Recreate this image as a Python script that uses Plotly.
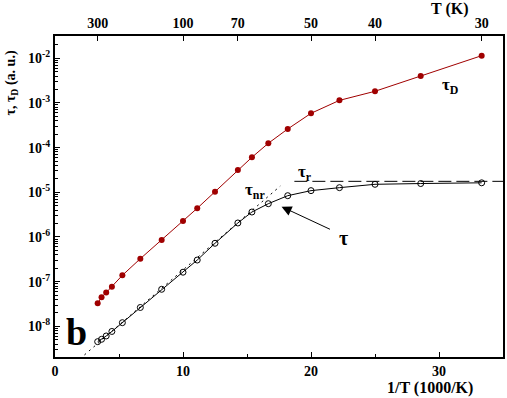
import plotly.graph_objects as go

# Temperatures (K) of the measurements; x = 1000/T
temps = [300, 275, 250, 225, 190, 150, 120, 100, 90, 80, 70, 65, 60, 55, 50, 45, 40, 35, 30]
inv_t = [1000.0 / t for t in temps]

# tau_D (red, filled)
tau_d = [3.3e-8, 4.5e-8, 5.7e-8, 7.7e-8, 1.39e-7, 3.27e-7, 8.6e-7, 2.28e-6, 4.39e-6,
         1.03e-5, 3.15e-5, 6.07e-5, 1.25e-4, 2.61e-4, 5.85e-4, 1.14e-3, 1.82e-3, 4.0e-3, 1.14e-2]

# tau (black, open)
tau = [4.55e-9, 5.14e-9, 6.1e-9, 7.7e-9, 1.21e-8, 2.65e-8, 6.76e-8, 1.63e-7, 3.05e-7,
       7.23e-7, 2.06e-6, 3.62e-6, 5.56e-6, 8.4e-6, 1.09e-5, 1.27e-5, 1.51e-5, 1.57e-5, 1.63e-5]

# asymptotes
tau_r_x = [18.7, 35.0]
tau_r_y = [1.76e-5, 1.76e-5]
tau_nr_x = [2.3, 17.6]
tau_nr_y = [2.3e-9, 1.38e-5]

# top axis ticks (T in K)
top_T = [300, 100, 70, 50, 40, 30]
top_pos = [1000.0 / t for t in top_T]
top_text = [str(t) for t in top_T]

y_vals = [1e-8, 1e-7, 1e-6, 1e-5, 1e-4, 1e-3, 1e-2]
y_text = ["10<sup>-%d</sup>" % k for k in range(8, 1, -1)]
y_minor = [m * 10.0 ** e for e in range(-9, -1) for m in range(2, 10)]

RED = "#a00000"
FONT = "Liberation Serif"

fig = go.Figure()
fig.add_trace(go.Scatter(x=tau_nr_x, y=tau_nr_y, mode="lines",
                         line=dict(color="black", width=1, dash="2px,4px"), hoverinfo="skip"))
fig.add_trace(go.Scatter(x=tau_r_x, y=tau_r_y, mode="lines",
                         line=dict(color="black", width=1, dash="13px,5px"), hoverinfo="skip"))
fig.add_trace(go.Scatter(x=inv_t, y=tau, mode="lines+markers",
                         line=dict(color="black", width=1),
                         marker=dict(symbol="circle-open", size=6, color="black", line=dict(width=1))))
fig.add_trace(go.Scatter(x=inv_t, y=tau_d, mode="lines+markers",
                         line=dict(color=RED, width=1),
                         marker=dict(symbol="circle", size=6, color=RED)))
# invisible trace to activate top axis
fig.add_trace(go.Scatter(x=[0, 35], y=[1e-8, 1e-8], xaxis="x2", mode="lines",
                         line=dict(width=0), opacity=0, hoverinfo="skip"))

tickfont = dict(family=FONT, size=14, color="black", weight="bold")

fig.update_layout(
    width=507, height=398,
    margin=dict(l=55, r=2, t=36, b=41),
    plot_bgcolor="white", paper_bgcolor="white",
    showlegend=False,
    xaxis=dict(range=[0, 35], tickvals=[0, 10, 20, 30], ticks="inside", ticklen=5,
               tickcolor="black", tickwidth=1, tickfont=tickfont,
               showline=True, linecolor="black", linewidth=2, mirror=True,
               showgrid=False, zeroline=False,
               minor=dict(tickvals=[5, 15, 25], ticks="inside", ticklen=3, tickcolor="black")),
    xaxis2=dict(range=[0, 35], overlaying="x", side="top", tickvals=top_pos, ticktext=top_text,
                ticks="inside", ticklen=5, tickcolor="black", tickfont=tickfont,
                showline=True, linecolor="black", linewidth=2,
                showgrid=False, zeroline=False),
    yaxis=dict(type="log", range=[-8.685, -1.503], tickvals=y_vals, ticktext=y_text,
               ticks="inside", ticklen=5, tickcolor="black", tickfont=tickfont,
               showline=True, linecolor="black", linewidth=2, mirror=True,
               showgrid=False, zeroline=False,
               minor=dict(tickvals=y_minor, ticks="inside", ticklen=3, tickcolor="black")),
)

lab = dict(family=FONT, size=17, color="black", weight="bold")
ann = [
    dict(x=30.84, y=-2.62, text="τ<sub>D</sub>", font=lab),
    dict(x=19.5, y=-4.56, text="τ<sub>r</sub>", font=lab),
    dict(x=15.6, y=-4.98, text="τ<sub>nr</sub>", font=lab),
    dict(x=22.5, y=-6.02, text="τ", font=dict(family=FONT, size=20, color="black", weight="bold")),
    dict(x=1.7, y=-8.12, text="b", font=dict(family=FONT, size=38, color="black", weight="bold")),
]
for a in ann:
    fig.add_annotation(xref="x", yref="y", showarrow=False, xanchor="center", yanchor="middle", **a)

fig.add_annotation(xref="x", yref="y", x=17.7, y=-5.322, ax=21.6, ay=-5.843,
                   axref="x", ayref="y", showarrow=True, arrowhead=2, arrowsize=2,
                   arrowwidth=1, arrowcolor="black", text="")

common = dict(xref="paper", yref="paper", showarrow=False, xanchor="center", yanchor="middle")
fig.add_annotation(x=-0.096, y=0.855, textangle=-90,
                   text="τ, τ<sub>D</sub> (a. u.)",
                   font=dict(family=FONT, size=14, color="black", weight="bold"), **common)
fig.add_annotation(x=0.836, y=-0.097,
                   text="1/T (1000/K)",
                   font=dict(family=FONT, size=16, color="black", weight="bold"), **common)
fig.add_annotation(x=0.88, y=1.084,
                   text="T (K)",
                   font=dict(family=FONT, size=16, color="black", weight="bold"), **common)

fig.write_html("out.html", config={"displayModeBar": False},
               post_script="document.body.style.margin='0';document.body.style.overflow='hidden';")
